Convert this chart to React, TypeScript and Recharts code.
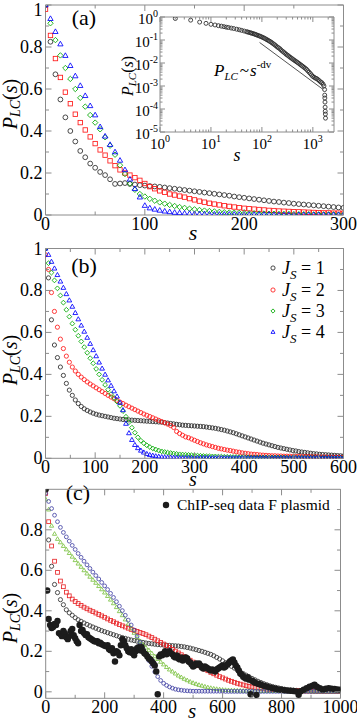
import React from 'react';
import { ScatterChart, Scatter, XAxis, YAxis } from 'recharts';

const FONT = "'Liberation Serif', 'Times New Roman', Times, serif";
const FRAME = '#8c8c8c';
const W = 357;
const H = 722;

// ---------------- panel (a) ----------------
const sA = [0,5,10,15,20,25,30,35,40,45,50,55,60,65,70,75,80,85,90,95,100,105,110,115,120,125,130,135,140,145,150,155,160,165,170,175,180,185,190,195,200,205,210,215,220,225,230,235,240,245,250,255,260,265,270,275,280,285,290,295,300];
const aJ1 = [1.0,0.825,0.67,0.55,0.465,0.4,0.35,0.305,0.275,0.245,0.225,0.205,0.19,0.17,0.148,0.15,0.152,0.148,0.145,0.142,0.14,0.138,0.136,0.134,0.131,0.128,0.125,0.122,0.119,0.116,0.113,0.11,0.107,0.104,0.101,0.098,0.095,0.092,0.088,0.085,0.082,0.079,0.076,0.073,0.07,0.067,0.064,0.062,0.059,0.057,0.054,0.052,0.05,0.048,0.046,0.044,0.042,0.04,0.038,0.036,0.034];
const aJ2 = [0.98,0.855,0.745,0.655,0.585,0.53,0.48,0.44,0.405,0.372,0.34,0.31,0.285,0.258,0.235,0.215,0.2,0.19,0.178,0.165,0.15,0.135,0.125,0.115,0.108,0.1,0.095,0.09,0.085,0.078,0.072,0.066,0.061,0.056,0.052,0.048,0.044,0.041,0.038,0.035,0.032,0.03,0.028,0.026,0.024,0.022,0.021,0.019,0.018,0.017,0.016,0.015,0.014,0.013,0.012,0.011,0.01,0.01,0.009,0.009,0.008];
const aJ3 = [1.0,0.913,0.833,0.76,0.7,0.648,0.6,0.558,0.516,0.476,0.44,0.408,0.37,0.33,0.287,0.237,0.195,0.15,0.12,0.1,0.088,0.077,0.068,0.06,0.054,0.048,0.043,0.038,0.034,0.03,0.027,0.024,0.021,0.019,0.017,0.015,0.013,0.012,0.011,0.01,0.009,0.008,0.008,0.007,0.007,0.006,0.006,0.005,0.005,0.005,0.004,0.004,0.004,0.004,0.003,0.003,0.003,0.003,0.003,0.002,0.002];
const aJ4 = [1.0,0.935,0.873,0.814,0.759,0.711,0.662,0.616,0.568,0.52,0.476,0.42,0.375,0.335,0.3,0.26,0.215,0.17,0.125,0.085,0.045,0.033,0.027,0.022,0.018,0.015,0.012,0.01,0.008,0.007,0.006,0.005,0.005,0.004,0.004,0.003,0.003,0.003,0.003,0.002,0.002,0.002,0.002,0.002,0.002,0.002,0.001,0.001,0.001,0.001,0.001,0.001,0.001,0.001,0.001,0.001,0.001,0.001,0.001,0.001,0.001];
const ticksAX = [0,50,100,150,200,250,300];
const labelsAX = [0,100,200,300];
const ticksY = [0,0.1,0.2,0.3,0.4,0.5,0.6,0.7,0.8,0.9,1];
const labelsY = [0,0.2,0.4,0.6,0.8,1];

// ---------------- inset of (a) ----------------
const insetS = [2,4,6,8,10,12,14,16,18,20,22,25,28,32,36,40,45,50,53,56,60,63,67,71,75,79,84,89,94,100,106,112,119,126,133,141,150,158,168,178,188,200,211,224,237,251,266,282,299,316,335,355,376,398,422,447,473,501,531,562,596,631,668,708,750,794,841,891,944,1000,1059,1122,1189,1259,1334,1413,1496,1585,1650,1700,1710,1720,1730,1740,1750,1760,1770];
const insetP = [0.86,0.73,0.6,0.53,0.48,0.45,0.42,0.4,0.38,0.36,0.35,0.33,0.315,0.295,0.278,0.262,0.245,0.23,0.222,0.214,0.205,0.198,0.19,0.182,0.174,0.166,0.158,0.15,0.143,0.135,0.127,0.119,0.111,0.103,0.096,0.089,0.082,0.075,0.068,0.062,0.056,0.05,0.046,0.042,0.037,0.033,0.03,0.027,0.024,0.022,0.02,0.018,0.0165,0.015,0.0137,0.0125,0.0115,0.0105,0.0096,0.0087,0.0079,0.0072,0.0065,0.0059,0.0053,0.0046,0.004,0.0035,0.003,0.0026,0.0024,0.0022,0.0021,0.0019,0.0017,0.0015,0.0014,0.0012,0.001,0.0007,0.0004,0.0003,0.0002,0.00012,0.00008,0.00006,0.00004];
const guideS = [90, 1600];
const guideP = [0.078, 0.0007];
const insetXTicks = [1,2,3,4,5,6,7,8,9,10,20,30,40,50,60,70,80,90,100,200,300,400,500,600,700,800,900,1000,2000];
const insetXLabels = [1,10,100,1000];
const insetYTicks = [0.00001,0.00002,0.00003,0.00004,0.00005,0.00006,0.00007,0.00008,0.00009,0.0001,0.0002,0.0003,0.0004,0.0005,0.0006,0.0007,0.0008,0.0009,0.001,0.002,0.003,0.004,0.005,0.006,0.007,0.008,0.009,0.01,0.02,0.03,0.04,0.05,0.06,0.07,0.08,0.09,0.1,0.2,0.3,0.4,0.5,0.6,0.7,0.8,0.9,1];
const insetYLabels = [0.00001,0.0001,0.001,0.01,0.1,1];

// ---------------- panel (b) ----------------
const sB = [0,6,12,18,24,30,36,42,48,54,60,66,72,78,84,90,96,102,108,114,120,126,132,138,144,150,156,162,168,174,180,186,192,198,204,210,216,222,228,234,240,246,252,258,264,270,276,282,288,294,300,306,312,318,324,330,336,342,348,354,360,366,372,378,384,390,396,402,408,414,420,426,432,438,444,450,456,462,468,474,480,486,492,498,504,510,516,522,528,534,540,546,552,558,564,570,576,582,588,594,600];
const bJ1 = [1.0,0.86,0.66,0.54,0.48,0.435,0.395,0.357,0.325,0.3,
  0.278,0.261,0.247,0.236,0.228,0.221,0.215,0.21,0.206,0.203,
  0.2,0.197,0.194,0.191,0.189,0.187,0.185,0.184,0.183,0.182,
  0.181,0.18,0.179,0.178,0.177,0.176,0.175,0.174,0.173,0.172,
  0.17,0.168,0.166,0.164,0.162,0.16,0.158,0.157,0.156,0.155,
  0.154,0.153,0.152,0.151,0.149,0.147,0.145,0.143,0.14,0.137,
  0.134,0.13,0.126,0.122,0.117,0.112,0.107,0.102,0.097,0.092,
  0.087,0.082,0.077,0.072,0.068,0.064,0.06,0.056,0.052,0.049,
  0.046,0.043,0.04,0.037,0.035,0.032,0.03,0.028,0.026,0.024,
  0.022,0.021,0.019,0.018,0.017,0.016,0.015,0.014,0.013,0.012,
  0.011];
const bJ2 = [0.97,0.9,0.79,0.7,0.625,0.568,0.523,0.487,0.458,0.435,
  0.416,0.4,0.387,0.375,0.364,0.354,0.345,0.336,0.327,0.318,
  0.309,0.3,0.292,0.284,0.276,0.268,0.261,0.253,0.246,0.239,
  0.232,0.225,0.218,0.211,0.205,0.199,0.193,0.187,0.181,0.175,
  0.169,0.163,0.156,0.147,0.128,0.118,0.11,0.102,0.098,0.092,
  0.086,0.08,0.074,0.069,0.064,0.06,0.056,0.052,0.048,0.045,
  0.042,0.039,0.037,0.034,0.031,0.029,0.026,0.024,0.022,0.02,
  0.019,0.018,0.016,0.015,0.014,0.013,0.012,0.012,0.011,0.011,
  0.01,0.01,0.01,0.009,0.009,0.009,0.008,0.008,0.008,0.007,
  0.007,0.007,0.006,0.006,0.006,0.005,0.005,0.005,0.005,0.004,
  0.004];
const bJ3 = [1.0,0.93,0.885,0.848,0.81,0.776,0.742,0.708,0.675,0.642,
  0.613,0.584,0.557,0.53,0.503,0.477,0.453,0.426,0.4,0.374,
  0.35,0.327,0.306,0.288,0.27,0.25,0.225,0.198,0.172,0.146,
  0.122,0.1,0.084,0.072,0.062,0.054,0.047,0.042,0.037,0.033,
  0.03,0.027,0.025,0.023,0.021,0.019,0.018,0.017,0.016,0.015,
  0.014,0.013,0.012,0.011,0.01,0.01,0.009,0.009,0.008,0.008,
  0.007,0.007,0.006,0.006,0.006,0.005,0.005,0.005,0.005,0.004,
  0.004,0.004,0.004,0.004,0.004,0.004,0.004,0.004,0.004,0.004,
  0.004,0.003,0.003,0.003,0.003,0.003,0.003,0.003,0.003,0.003,
  0.003,0.002,0.002,0.002,0.002,0.002,0.002,0.002,0.002,0.002,
  0.002];
const bJ4 = [1.0,0.97,0.937,0.905,0.874,0.843,0.813,0.783,0.753,0.723,
  0.693,0.663,0.633,0.604,0.575,0.546,0.516,0.487,0.457,0.428,
  0.399,0.372,0.346,0.32,0.295,0.265,0.23,0.165,0.12,0.088,
  0.064,0.049,0.037,0.028,0.021,0.016,0.013,0.01,0.008,0.006,
  0.005,0.004,0.004,0.003,0.003,0.002,0.002,0.002,0.002,0.002,
  0.002,0.002,0.002,0.002,0.002,0.002,0.001,0.001,0.001,0.001,
  0.001,0.001,0.001,0.001,0.001,0.001,0.001,0.001,0.001,0.001,
  0.001,0.001,0.001,0.001,0.001,0.001,0.001,0.001,0.001,0.001,
  0.001,0.001,0.001,0.001,0.001,0.001,0.001,0.001,0.001,0.001,
  0.001,0.001,0.001,0.001,0.001,0.001,0.001,0.001,0.001,0.001,
  0.001];
const ticksBX = [0,50,100,150,200,250,300,350,400,450,500,550,600];
const labelsBX = [0,100,200,300,400,500,600];
const legendB = ['1', '2', '3', '4'];

// ---------------- panel (c) ----------------
const sC = [0,10,20,30,40,50,60,70,80,90,100,110,120,130,140,150,160,170,180,190,200,210,220,230,240,250,260,270,280,290,300,310,320,330,340,350,360,370,380,390,400,410,420,430,440,450,460,470,480,490,500,510,520,530,540,550,560,570,580,590,600,610,620,630,640,650,660,670,680,690,700,710,720,730,740,750,760,770,780,790,800,810,820,830,840,850,860,870,880,890,900,910,920,930,940,950,960,970,980,990,1000];
const cJ1 = [1.0,0.75,0.62,0.53,0.49,0.455,0.43,0.405,0.39,0.378,
  0.366,0.356,0.348,0.34,0.333,0.326,0.32,0.314,0.308,0.302,
  0.297,0.292,0.287,0.282,0.277,0.272,0.268,0.264,0.26,0.256,
  0.253,0.25,0.247,0.244,0.241,0.239,0.237,0.235,0.233,0.232,
  0.231,0.23,0.229,0.228,0.227,0.226,0.224,0.222,0.219,0.216,
  0.212,0.208,0.204,0.2,0.195,0.19,0.185,0.178,0.17,0.162,
  0.153,0.144,0.135,0.126,0.117,0.108,0.099,0.09,0.082,0.074,
  0.066,0.059,0.052,0.046,0.04,0.035,0.03,0.026,0.022,0.019,
  0.016,0.013,0.011,0.009,0.008,0.007,0.006,0.005,0.005,0.005,
  0.004,0.004,0.004,0.004,0.003,0.003,0.003,0.003,0.003,0.003,
  0.003];
const cJ2 = [0.98,0.84,0.72,0.645,0.59,0.547,0.519,0.492,0.474,0.458,
  0.446,0.436,0.427,0.418,0.41,0.403,0.396,0.389,0.382,0.375,
  0.368,0.36,0.353,0.346,0.339,0.332,0.326,0.32,0.314,0.308,
  0.303,0.298,0.293,0.288,0.282,0.275,0.268,0.26,0.252,0.244,
  0.236,0.228,0.219,0.21,0.201,0.192,0.183,0.174,0.165,0.156,
  0.147,0.138,0.129,0.12,0.112,0.104,0.096,0.089,0.082,0.075,
  0.069,0.063,0.057,0.052,0.047,0.042,0.038,0.034,0.03,0.027,
  0.024,0.021,0.019,0.017,0.015,0.013,0.012,0.011,0.01,0.009,
  0.008,0.007,0.007,0.006,0.006,0.005,0.005,0.005,0.004,0.004,
  0.004,0.004,0.003,0.003,0.003,0.003,0.003,0.003,0.003,0.002,
  0.002];
const cJ3 = [0.95,0.9,0.82,0.78,0.755,0.738,0.72,0.703,0.685,0.667,
  0.65,0.633,0.617,0.6,0.584,0.568,0.553,0.538,0.522,0.506,
  0.49,0.473,0.455,0.437,0.418,0.398,0.378,0.357,0.335,0.313,
  0.291,0.27,0.25,0.232,0.218,0.205,0.19,0.175,0.162,0.148,
  0.135,0.122,0.11,0.1,0.09,0.08,0.072,0.064,0.057,0.05,
  0.044,0.039,0.034,0.03,0.026,0.022,0.019,0.016,0.014,0.012,
  0.01,0.009,0.008,0.007,0.007,0.006,0.006,0.005,0.005,0.005,
  0.004,0.004,0.004,0.004,0.004,0.004,0.004,0.004,0.004,0.004,
  0.004,0.003,0.003,0.003,0.003,0.003,0.003,0.003,0.003,0.003,
  0.003,0.002,0.002,0.002,0.002,0.002,0.002,0.002,0.002,0.002,
  0.002];
const cJ4 = [0.98,0.94,0.905,0.872,0.84,0.812,0.787,0.765,0.744,0.723,
  0.703,0.683,0.664,0.645,0.627,0.609,0.591,0.574,0.557,0.54,
  0.523,0.505,0.486,0.466,0.445,0.423,0.401,0.378,0.354,0.33,
  0.305,0.275,0.244,0.213,0.183,0.154,0.126,0.099,0.075,0.056,
  0.042,0.032,0.024,0.018,0.013,0.01,0.008,0.006,0.005,0.004,
  0.003,0.003,0.003,0.003,0.003,0.003,0.003,0.003,0.003,0.003,
  0.003,0.002,0.002,0.002,0.002,0.002,0.002,0.002,0.002,0.002,
  0.002,0.002,0.002,0.002,0.002,0.002,0.002,0.002,0.002,0.002,
  0.002,0.002,0.002,0.002,0.002,0.002,0.002,0.002,0.002,0.002,
  0.002,0.002,0.002,0.002,0.002,0.002,0.002,0.002,0.002,0.002,
  0.002];
const chipS = [0,5,10,15,20,25,30,35,40,45,50,55,60,65,70,75,80,85,90,95,100,105,110,115,120,125,130,135,140,145,150,155,160,165,170,175,180,185,190,195,200,205,210,215,220,225,230,235,240,245,250,255,260,265,270,275,280,285,290,295,300,305,310,315,320,325,330,335,340,345,350,355,360,365,370,375,380,385,390,395,400,405,410,415,420,425,430,435,440,445,450,455,460,465,470,475,480,485,490,495,500,505,510,515,520,525,530,535,540,545,550,555,560,565,570,575,580,585,590,595,600,605,610,615,620,625,630,635,640,645,650,655,660,665,670,675,680,685,690,695,700,705,710,715,720,725,730,740,750,760,770,780,790,800,810,820,830,840,850,858,865,875,885,895,905,912,920,930,940,950,960,970,980,990,1000];
const chipP = [1.0,0.5,0.36,0.33,0.315,0.32,0.335,0.33,0.35,0.29,0.285,0.275,0.3,0.29,0.27,0.26,0.275,0.3,0.31,0.28,0.265,0.25,0.24,0.33,0.3,0.305,0.29,0.28,0.285,0.27,0.265,0.26,0.255,0.25,0.248,0.25,0.24,0.242,0.235,0.232,0.228,0.225,0.23,0.21,0.205,0.215,0.19,0.15,0.2,0.195,0.18,0.23,0.26,0.25,0.23,0.215,0.2,0.195,0.21,0.19,0.18,0.2,0.215,0.22,0.205,0.22,0.2,0.19,0.185,0.175,0.165,0.16,0.15,0.14,0.13,0.1,-0.012,0.175,0.185,0.18,0.19,0.2,0.185,0.195,0.2,0.19,0.185,0.175,0.17,0.18,0.165,0.16,0.17,0.155,0.16,0.17,0.165,0.15,0.145,0.135,0.125,0.13,0.14,0.135,0.14,0.13,0.12,0.115,0.125,0.12,0.115,0.11,0.105,0.11,0.107,0.1,0.11,0.115,0.12,0.125,0.13,0.12,0.125,0.135,0.14,0.15,0.155,0.16,0.145,0.13,0.12,0.105,0.09,0.085,0.075,0.07,0.065,0.072,0.06,-0.012,0.055,0.05,0.045,-0.015,0.04,0.038,0.035,0.03,0.026,0.022,0.018,0.015,0.012,0.01,0.008,0.006,0.005,0.004,0.002,-0.015,0.003,0.01,0.018,0.025,0.03,0.035,0.025,0.018,0.012,0.015,0.018,0.016,0.014,0.012,0.01];
const ticksCX = [0,100,200,300,400,500,600,700,800,900,1000];
const labelsCX = [0,200,400,600,800,1000];
const ticksCY = [0,0.1,0.2,0.3,0.4,0.5,0.6,0.7,0.8,0.9];
const labelsCY = [0,0.2,0.4,0.6,0.8];
const legendC = 'ChIP-seq data F plasmid';

// ---------------- helpers ----------------
const zip = (xs: number[], ys: number[]) => xs.map((x, i) => ({ x, y: ys[i] }));
const near = (a: number, b: number) => Math.abs(a - b) <= 1e-6 * Math.max(Math.abs(a), Math.abs(b)) + 1e-15;
type Fmt = (v: number) => React.ReactNode;
const fmtLin: Fmt = (v) => (near(v, 0) ? '0' : near(v, 1) ? '1' : v.toFixed(1));
const fmtInt: Fmt = (v) => String(Math.round(v));
const fmtPow: Fmt = (v) => (
  <>
    10<tspan dy={-7} fontSize={10}>{String(Math.round(Math.log10(v)))}</tspan>
  </>
);

type Kind = 'circle' | 'square' | 'diamond' | 'triangle' | 'dot';
function Sym({ kind, cx, cy, s, color }: { kind: Kind; cx: number; cy: number; s: number; color: string }) {
  const sw = 0.85;
  if (kind === 'dot') return <circle cx={cx} cy={cy} r={s} fill={color} stroke="none" />;
  if (kind === 'circle') return <circle cx={cx} cy={cy} r={s} fill="none" stroke={color} strokeWidth={sw} />;
  if (kind === 'square') return <rect x={cx - s} y={cy - s} width={2 * s} height={2 * s} fill="none" stroke={color} strokeWidth={sw} />;
  if (kind === 'diamond')
    return <polygon points={`${cx},${cy - s} ${cx + s},${cy} ${cx},${cy + s} ${cx - s},${cy}`} fill="none" stroke={color} strokeWidth={sw} />;
  return <polygon points={`${cx},${cy - s} ${cx + s * 0.95},${cy + s * 0.65} ${cx - s * 0.95},${cy + s * 0.65}`} fill="none" stroke={color} strokeWidth={sw} />;
}
const shp = (kind: Kind, s: number, color: string) => (p: any) => (
  <Sym kind={kind} cx={Number(p.cx)} cy={Number(p.cy)} s={s} color={color} />
);

function mkTick(orient: 'bottom' | 'top' | 'left' | 'right', labels: number[], fmt: Fmt | null, major: number, minor: number, fs: number, dx: number, dy: number) {
  return (p: any) => {
    const v = Number(p.payload?.value);
    const M = labels.some((l) => near(l, v));
    const len = M ? major : minor;
    const x = Number(p.x);
    const y = Number(p.y);
    let line;
    if (orient === 'bottom') line = <line x1={x} x2={x} y1={y} y2={y - len} />;
    else if (orient === 'top') line = <line x1={x} x2={x} y1={y} y2={y + len} />;
    else if (orient === 'left') line = <line x1={x} x2={x + len} y1={y} y2={y} />;
    else line = <line x1={x} x2={x - len} y1={y} y2={y} />;
    const ty = Math.max(y + dy, fs * 0.9);
    return (
      <g stroke={FRAME} strokeWidth={1}>
        {line}
        {M && fmt ? (
          <text x={x + dx} y={ty} textAnchor={orient === 'left' ? 'end' : 'middle'} fontFamily={FONT} fontSize={fs} fill="#000" stroke="none">
            {fmt(v)}
          </text>
        ) : null}
      </g>
    );
  };
}

type AxCfg = {
  xDomain: [number, number]; yDomain: [number, number];
  xTicks: number[]; yTicks: number[]; xLabels: number[]; yLabels: number[];
  xFmt: Fmt; yFmt: Fmt; scale: 'linear' | 'log';
  major: number; minor: number; fs: number; xDy: number; yDx: number; yDy: number;
};

// every axis is 1px thick; the chart margins are reduced by that pixel
function frameAxes(c: AxCfg) {
  const base = {
    type: 'number' as const,
    scale: c.scale,
    allowDataOverflow: true,
    tickSize: 0,
    tickMargin: 0,
    tickLine: false,
    interval: 0 as const,
    axisLine: { stroke: FRAME, strokeWidth: 1 },
  };
  return [
    <XAxis key="xb" xAxisId="b" orientation="bottom" dataKey="x" domain={c.xDomain} ticks={c.xTicks} height={1}
      tick={mkTick('bottom', c.xLabels, c.xFmt, c.major, c.minor, c.fs, 0, c.xDy)} {...base} />,
    <XAxis key="xt" xAxisId="t" orientation="top" dataKey="x" domain={c.xDomain} ticks={c.xTicks} height={1}
      tick={mkTick('top', c.xLabels, null, c.major, c.minor, c.fs, 0, 0)} {...base} />,
    <YAxis key="yl" yAxisId="l" orientation="left" dataKey="y" domain={c.yDomain} ticks={c.yTicks} width={1}
      tick={mkTick('left', c.yLabels, c.yFmt, c.major, c.minor, c.fs, c.yDx, c.yDy)} {...base} />,
    <YAxis key="yr" yAxisId="r" orientation="right" dataKey="y" domain={c.yDomain} ticks={c.yTicks} width={1}
      tick={mkTick('right', c.yLabels, null, c.major, c.minor, c.fs, 0, 0)} {...base} />,
  ];
}

function YTitle({ x, y, fs, sub }: { x: number; y: number; fs: number; sub: number }) {
  return (
    <text transform={`translate(${x},${y}) rotate(-90)`} textAnchor="middle" fontFamily={FONT} fontSize={fs} fill="#000">
      <tspan fontStyle="italic">P</tspan>
      <tspan fontStyle="italic" fontSize={sub} dy={3}>LC</tspan>
      <tspan dy={-3}>(</tspan>
      <tspan fontStyle="italic">s</tspan>
      <tspan>)</tspan>
    </text>
  );
}

const COL = { black: '#2a2a2a', red: '#ff1a1a', green: '#00a800', blue: '#0000ff' };
const COLC = { black: '#333333', red: '#e8282b', green: '#7cc242', blue: '#4646a6', chip: '#1c1c1c' };

const box = (l: number, r: number, t: number, b: number) => ({ top: t - 1, left: l - 1, right: W - r - 1, bottom: H - b - 1 });
const layer: React.CSSProperties = { position: 'absolute', left: 0, top: 0 };

export default function App() {
  const linCommon = { major: 6, minor: 3.5, fs: 18, xDy: 15, yDx: -3, yDy: 6, scale: 'linear' as const };
  const legendKinds: Kind[] = ['circle', 'circle', 'diamond', 'triangle'];
  const legendCols = [COL.black, COL.red, COL.green, COL.blue];
  const legendRows = [268, 290, 311, 332];
  return (
    <div style={{ position: 'absolute', left: 0, top: 0, width: W, height: H, background: '#fff' }}>
      {/* panel (a) */}
      <div style={layer}>
        <ScatterChart width={W} height={H} margin={box(45.5, 343.5, 5, 215)}>
          {frameAxes({ ...linCommon, xDomain: [0, 300], yDomain: [0, 1], xTicks: ticksAX, yTicks: ticksY, xLabels: labelsAX, yLabels: labelsY, xFmt: fmtInt, yFmt: fmtLin })}
          <Scatter xAxisId="b" yAxisId="l" data={zip(sA, aJ1)} shape={shp('circle', 2.4, COL.black)} isAnimationActive={false} />
          <Scatter xAxisId="b" yAxisId="l" data={zip(sA, aJ2)} shape={shp('square', 2.2, COL.red)} isAnimationActive={false} />
          <Scatter xAxisId="b" yAxisId="l" data={zip(sA, aJ3)} shape={shp('diamond', 2.7, COL.green)} isAnimationActive={false} />
          <Scatter xAxisId="b" yAxisId="l" data={zip(sA, aJ4)} shape={shp('triangle', 2.8, COL.blue)} isAnimationActive={false} />
          <text x={84} y={25} textAnchor="middle" fontFamily={FONT} fontSize={22} fill="#000">(a)</text>
          <YTitle x={17} y={104} fs={20} sub={14} />
          <text x={193} y={240} textAnchor="middle" fontFamily={FONT} fontSize={22} fontStyle="italic" fill="#000">s</text>
        </ScatterChart>
      </div>

      {/* inset */}
      <div style={layer}>
        <ScatterChart width={W} height={H} margin={box(160, 334, 17, 132)}>
          {frameAxes({ xDomain: [1, 2600], yDomain: [0.00001, 1], xTicks: insetXTicks, yTicks: insetYTicks, xLabels: insetXLabels, yLabels: insetYLabels, xFmt: fmtPow, yFmt: fmtPow, scale: 'log', major: 5, minor: 2.5, fs: 15, xDy: 17, yDx: -2, yDy: 7 })}
          <Scatter xAxisId="b" yAxisId="l" data={zip(insetS, insetP)} shape={shp('circle', 2, COL.black)} isAnimationActive={false} />
          <Scatter xAxisId="b" yAxisId="l" data={zip(guideS, guideP)} line={{ stroke: '#555', strokeWidth: 1 }} shape={() => <g />} isAnimationActive={false} />
          <text x={214} y={76} fontFamily={FONT} fontSize={17} fill="#000">
            <tspan fontStyle="italic">P</tspan>
            <tspan fontStyle="italic" fontSize={11} dy={4}>LC</tspan>
            <tspan dy={-4} dx={2}>~</tspan>
            <tspan fontStyle="italic" dx={1}>s</tspan>
            <tspan fontSize={11} dy={-8}>-dv</tspan>
          </text>
          <YTitle x={133} y={76} fs={16} sub={11} />
          <text x={237} y={161} textAnchor="middle" fontFamily={FONT} fontSize={18} fontStyle="italic" fill="#000">s</text>
        </ScatterChart>
      </div>

      {/* panel (b) */}
      <div style={layer}>
        <ScatterChart width={W} height={H} margin={box(45.5, 343.5, 248.5, 458.3)}>
          {frameAxes({ ...linCommon, xDomain: [0, 600], yDomain: [0, 1], xTicks: ticksBX, yTicks: ticksY, xLabels: labelsBX, yLabels: labelsY, xFmt: fmtInt, yFmt: fmtLin })}
          <Scatter xAxisId="b" yAxisId="l" data={zip(sB, bJ1)} shape={shp('circle', 2.1, COL.black)} isAnimationActive={false} />
          <Scatter xAxisId="b" yAxisId="l" data={zip(sB, bJ2)} shape={shp('circle', 2.1, COL.red)} isAnimationActive={false} />
          <Scatter xAxisId="b" yAxisId="l" data={zip(sB, bJ3)} shape={shp('diamond', 2.4, COL.green)} isAnimationActive={false} />
          <Scatter xAxisId="b" yAxisId="l" data={zip(sB, bJ4)} shape={shp('triangle', 2.5, COL.blue)} isAnimationActive={false} />
          <text x={84} y={273} textAnchor="middle" fontFamily={FONT} fontSize={22} fill="#000">(b)</text>
          <YTitle x={17} y={360} fs={20} sub={14} />
          <text x={193} y={486} textAnchor="middle" fontFamily={FONT} fontSize={20} fontStyle="italic" fill="#000">s</text>
          {legendB.map((lab, i) => (
            <g key={lab}>
              <Sym kind={legendKinds[i]} cx={273} cy={legendRows[i]} s={2.1} color={legendCols[i]} />
              <text x={282} y={legendRows[i] + 6} fontFamily={FONT} fontSize={18} fill="#000">
                <tspan fontStyle="italic">J</tspan>
                <tspan fontStyle="italic" fontSize={13} dy={5}>S</tspan>
                <tspan dy={-5}>{` = ${lab}`}</tspan>
              </text>
            </g>
          ))}
        </ScatterChart>
      </div>

      {/* panel (c) */}
      <div style={layer}>
        <ScatterChart width={W} height={H} margin={box(45.7, 340.5, 489.3, 698.3)}>
          {frameAxes({ ...linCommon, xDomain: [0, 1000], yDomain: [-0.032, 1], xTicks: ticksCX, yTicks: ticksCY, xLabels: labelsCX, yLabels: labelsCY, xFmt: fmtInt, yFmt: fmtLin })}
          <Scatter xAxisId="b" yAxisId="l" data={zip(sC, cJ1)} shape={shp('circle', 2.1, COLC.black)} isAnimationActive={false} />
          <Scatter xAxisId="b" yAxisId="l" data={zip(sC, cJ2)} shape={shp('square', 1.9, COLC.red)} isAnimationActive={false} />
          <Scatter xAxisId="b" yAxisId="l" data={zip(sC, cJ3)} shape={shp('triangle', 2.2, COLC.green)} isAnimationActive={false} />
          <Scatter xAxisId="b" yAxisId="l" data={zip(sC, cJ4)} shape={shp('circle', 1.9, COLC.blue)} isAnimationActive={false} />
          <Scatter xAxisId="b" yAxisId="l" data={zip(chipS, chipP)} shape={shp('dot', 3.2, COLC.chip)} isAnimationActive={false} />
          <text x={78} y={500} textAnchor="middle" fontFamily={FONT} fontSize={22} fill="#000">(c)</text>
          <YTitle x={17} y={618} fs={20} sub={14} />
          <text x={192} y={718} textAnchor="middle" fontFamily={FONT} fontSize={21} fontStyle="italic" fill="#000">s</text>
          <Sym kind="dot" cx={166} cy={505} s={3.2} color={COLC.chip} />
          <text x={177} y={510} fontFamily={FONT} fontSize={15.5} fill="#000">{legendC}</text>
        </ScatterChart>
      </div>
    </div>
  );
}
